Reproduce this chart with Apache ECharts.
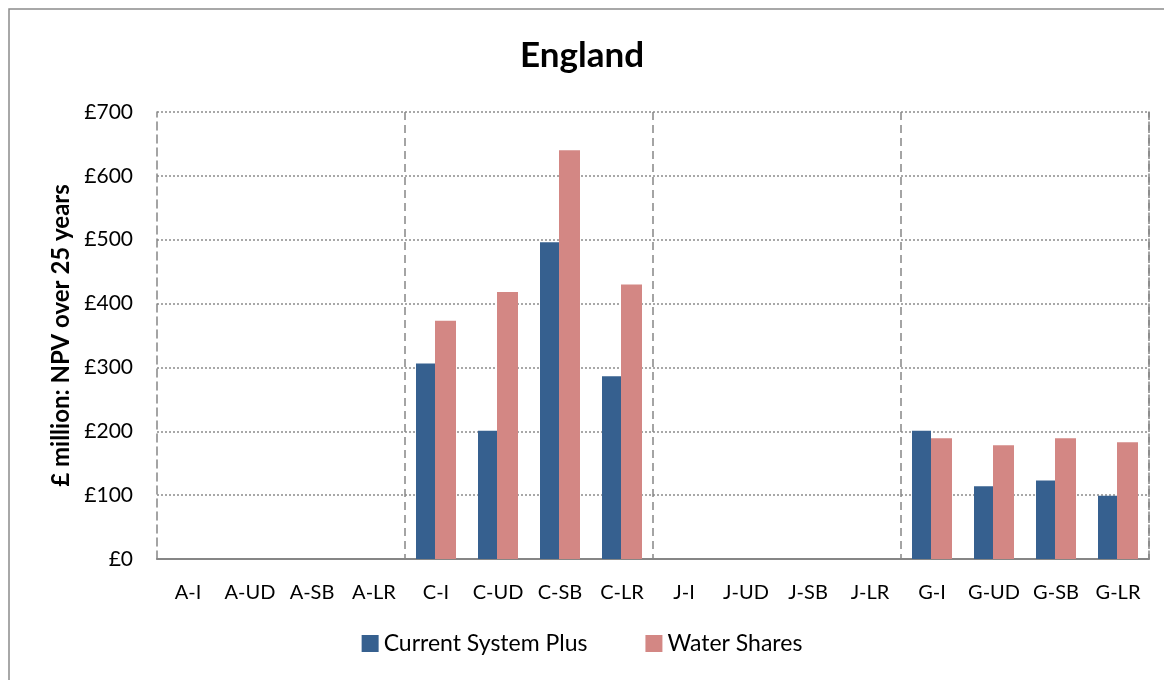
<!DOCTYPE html>
<html><head><meta charset="utf-8">
<script src="https://cdn.jsdelivr.net/npm/echarts@6/dist/echarts.min.js"></script>
<style>html,body{margin:0;padding:0;background:#fff}#c{width:1164px;height:680px}</style>
</head><body><div id="c"></div>
<script>
const categories = ['A-I','A-UD','A-SB','A-LR','C-I','C-UD','C-SB','C-LR','J-I','J-UD','J-SB','J-LR','G-I','G-UD','G-SB','G-LR'];
const currentSystemPlus = [0,0,0,0,306,201,496,286,0,0,0,0,201,114,123,99];
const waterShares = [0,0,0,0,373,418,640,430,0,0,0,0,189,178,189,183];
const yTicks = {min:0, max:700, interval:100};
const font = 'Lato, "Open Sans", sans-serif';
const chart = echarts.init(document.getElementById('c'));
chart.setOption({
  animation:false,
  title:{text:'England', left:'center', top:33, textStyle:{fontFamily:font, fontSize:35, fontWeight:'bold', color:'#000'}},
  graphic:[{type:'rect', shape:{x:9,y:9,width:1170,height:690}, style:{fill:'none', stroke:'#8c8c8c', lineWidth:1.5}, silent:true}],
  grid:{left:157, right:15, top:112, bottom:121},
  legend:{bottom:20, left:'center', itemWidth:17, itemHeight:17, itemGap:58, icon:'rect',
    textStyle:{fontFamily:font, fontSize:23, color:'#000'}, data:['Current System Plus','Water Shares']},
  xAxis:[{type:'category', data:categories,
    axisLine:{lineStyle:{color:'#868686', width:2}}, axisTick:{show:false},
    axisLabel:{fontFamily:font, fontSize:20, color:'#000', margin:24, interval:0},
    splitLine:{show:true, interval:function(i){return i>0 && i%4===0;}, lineStyle:{color:'#868686', type:[8,5], width:1.5}}}],
  yAxis:[{type:'value', min:yTicks.min, max:yTicks.max, interval:yTicks.interval,
    name:'£ million: NPV over 25 years', nameLocation:'middle', nameGap:80,
    nameTextStyle:{fontFamily:font, fontSize:24, fontWeight:'bold', color:'#000'},
    axisLine:{show:true, lineStyle:{color:'#868686', type:[8,5], width:1.5}}, axisTick:{show:false},
    axisLabel:{fontFamily:font, fontSize:21, color:'#000', margin:24, formatter:function(v){return '£'+v;}},
    splitLine:{show:true, lineStyle:{color:'#8c8c8c', type:[2,2], width:1.5}}},
   {type:'value', min:yTicks.min, max:yTicks.max, interval:yTicks.interval, position:'right',
    axisLine:{show:true, lineStyle:{color:'#868686', type:[8,5], width:1.5}}, axisTick:{show:false},
    axisLabel:{show:false}, splitLine:{show:false}}],
  series:[
    {name:'Current System Plus', type:'bar', data:currentSystemPlus, barWidth:19, barGap:'0%',
     itemStyle:{color:'#36608f'}},
    {name:'Water Shares', type:'bar', data:waterShares, barWidth:21,
     itemStyle:{color:'#d38784'}}
  ]
});
</script></body></html>
